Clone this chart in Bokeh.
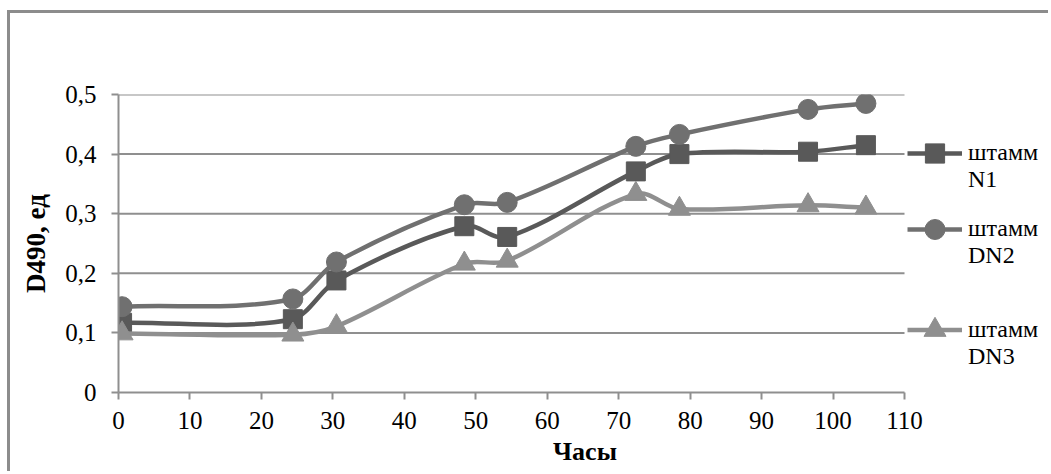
from bokeh.plotting import figure
from bokeh.models import Range1d, FixedTicker, Legend, LegendItem, ColumnDataSource
from bokeh.embed import file_html
from bokeh.resources import INLINE

# ---- data ----
hours = [0.5, 24.4, 30.5, 48.4, 54.4, 72.4, 78.5, 96.5, 104.6]
n1 = [0.117, 0.123, 0.188, 0.279, 0.261, 0.371, 0.400, 0.404, 0.415]
dn2 = [0.144, 0.157, 0.219, 0.315, 0.319, 0.413, 0.433, 0.475, 0.485]
dn3 = [0.099, 0.097, 0.111, 0.216, 0.221, 0.333, 0.308, 0.314, 0.310]
series_names = ["N1", "DN2", "DN3"]
x_ticks = [0, 10, 20, 30, 40, 50, 60, 70, 80, 90, 100, 110]
y_ticks = [0, 0.1, 0.2, 0.3, 0.4, 0.5]
y_tick_labels = ["0", "0,1", "0,2", "0,3", "0,4", "0,5"]
x_title = "Часы"
y_title = "D490, ед"
legend_prefix = "штамм"

# ---- styling ----
FONT = "'Liberation Serif', 'Times New Roman', serif"
GRID = "#8f8f8f"
colors = ["#595959", "#707070", "#8f8f8f"]
markers = ["square", "circle", "triangle"]
msizes = [19, 20, 22]

W, H = 1041, 461
ML, MT, MB = 108, 81, 82
AXIS_PX = 786.0
X_MAX = 110 * (W - ML) / AXIS_PX

p = figure(width=W, height=H, output_backend="svg", toolbar_location=None,
           x_range=Range1d(0, X_MAX), y_range=Range1d(0, 0.5),
           min_border_left=ML, min_border_top=MT, min_border_bottom=MB,
           min_border_right=0, background_fill_color="white",
           border_fill_color="white")
p.styles = {"border-left": "3px solid #8c8c8c", "border-top": "3px solid #8c8c8c",
            "margin-top": "10px", "margin-left": "7px"}
p.outline_line_color = None
p.xgrid.visible = False
p.ygrid.visible = False

# horizontal gridlines only over the axis span 0..110
p.segment(x0=[x_ticks[0]] * (len(y_ticks) - 1), x1=[x_ticks[-1]] * (len(y_ticks) - 1),
          y0=y_ticks[1:], y1=y_ticks[1:], line_color=GRID, line_width=2)

for ax in (p.xaxis[0], p.yaxis[0]):
    ax.axis_line_color = GRID
    ax.axis_line_width = 2
    ax.major_tick_line_color = GRID
    ax.major_tick_line_width = 2
    ax.major_tick_out = 7
    ax.major_tick_in = 0
    ax.minor_tick_line_color = None
    ax.major_label_text_font = FONT
    ax.major_label_text_font_size = "25px"
    ax.major_label_text_color = "black"
    ax.axis_label_text_font = FONT
    ax.axis_label_text_font_style = "bold"
    ax.axis_label_text_color = "black"

p.xaxis.ticker = FixedTicker(ticks=x_ticks)
p.xaxis.bounds = (x_ticks[0], x_ticks[-1])
p.xaxis.major_label_standoff = 12
p.xaxis.axis_label = x_title
p.xaxis.axis_label_text_font_size = "26px"
p.xaxis.axis_label_standoff = 5

p.yaxis.ticker = FixedTicker(ticks=y_ticks)
p.yaxis.major_label_overrides = {t: l for t, l in zip(y_ticks, y_tick_labels)}
p.yaxis.major_label_standoff = 15
p.yaxis.axis_label = y_title
p.yaxis.axis_label_text_font_size = "27px"
p.yaxis.axis_label_standoff = 11


def smooth_segments(xs, ys):
    n = len(xs)
    slopes = []
    for i in range(n):
        a = max(i - 1, 0)
        b = min(i + 1, n - 1)
        slopes.append((ys[b] - ys[a]) / (xs[b] - xs[a]))
    d = dict(x0=[], y0=[], x1=[], y1=[], cx0=[], cy0=[], cx1=[], cy1=[])
    for i in range(n - 1):
        dx = (xs[i + 1] - xs[i]) / 3.0
        d["x0"].append(xs[i]); d["y0"].append(ys[i])
        d["x1"].append(xs[i + 1]); d["y1"].append(ys[i + 1])
        d["cx0"].append(xs[i] + dx); d["cy0"].append(ys[i] + slopes[i] * dx)
        d["cx1"].append(xs[i + 1] - dx); d["cy1"].append(ys[i + 1] - slopes[i + 1] * dx)
    return d


legend_y = [199, 123, 22]
glyph_h = [48, 50, 55]
for name, ys, col, mk, ms, ly, gh in zip(series_names, [n1, dn2, dn3], colors, markers,
                                         msizes, legend_y, glyph_h):
    src = ColumnDataSource(smooth_segments(hours, ys))
    rl = p.bezier(x0="x0", y0="y0", x1="x1", y1="y1", cx0="cx0", cy0="cy0",
                  cx1="cx1", cy1="cy1", source=src, line_color=col, line_width=4.5)
    rm = p.scatter(hours, ys, marker=mk, size=ms, fill_color=col, line_color=col)
    leg = Legend(items=[LegendItem(label=" \n" + legend_prefix + "\n" + name,
                                   renderers=[rl, rm])],
                 location=(789, ly), orientation="vertical")
    leg.glyph_width = 55
    leg.glyph_height = gh
    leg.label_standoff = 6
    leg.padding = 0
    leg.margin = 0
    leg.spacing = 0
    leg.border_line_color = None
    leg.background_fill_alpha = 0
    leg.label_text_font = FONT
    leg.label_text_font_size = "24px"
    leg.label_text_line_height = 1.12
    leg.label_text_color = "black"
    p.add_layout(leg)

open("out.html", "w").write(file_html(p, INLINE))
